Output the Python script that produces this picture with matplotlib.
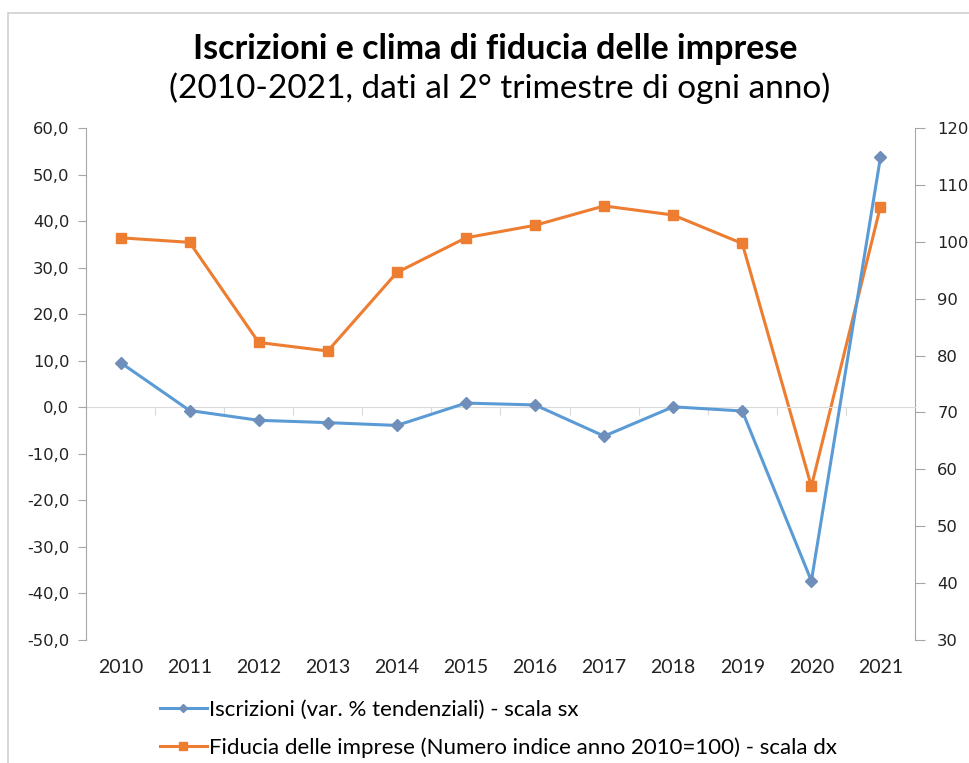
import numpy as np
import matplotlib.pyplot as plt
from matplotlib.patches import Rectangle

anni = ['2010', '2011', '2012', '2013', '2014', '2015',
        '2016', '2017', '2018', '2019', '2020', '2021']
iscrizioni = [9.6, -0.7, -2.8, -3.3, -3.9, 0.9, 0.5, -6.2, 0.1, -0.8, -37.3, 53.7]
fiducia = [100.7, 99.9, 82.3, 80.8, 94.6, 100.7, 102.9, 106.3, 104.7, 99.7, 57.0, 106.2]

sx_ticks = np.arange(-50, 61, 10)
dx_ticks = np.arange(30, 121, 10)

blu = '#5B9BD5'
blu_mk = '#6F8FBA'
arancio = '#ED7D31'
grigio = '#A6A6A6'

fig = plt.figure(figsize=(9.7, 7.63), dpi=100)
fig.patches.append(Rectangle((8 / 970, -0.01), 0.995, 1 - 13 / 763 + 0.01,
                             transform=fig.transFigure, fill=False,
                             edgecolor='#D0D0D0', linewidth=1.2))

ax = fig.add_axes([86 / 970, 1 - 640 / 763, (915 - 86) / 970, (640 - 128) / 763])
ax2 = ax.twinx()

x = np.arange(len(anni)) + 0.5
l1, = ax.plot(x, iscrizioni, color=blu, lw=2.2, marker='D', ms=6,
              mfc=blu_mk, mec=blu_mk, zorder=3,
              label='Iscrizioni (var. % tendenziali) - scala sx')
l2, = ax2.plot(x, fiducia, color=arancio, lw=2.2, marker='s', ms=7.5,
               mfc=arancio, mec=arancio,
               label='Fiducia delle imprese (Numero indice anno 2010=100) - scala dx')

ax.set_xlim(0, len(anni))
ax.set_ylim(-50, 60)
ax2.set_ylim(30, 120)
ax.set_zorder(ax2.get_zorder() + 1)
ax.patch.set_visible(False)

ax.set_yticks(sx_ticks)
ax.set_yticklabels([f'{v:.1f}'.replace('.', ',') for v in sx_ticks])
ax2.set_yticks(dx_ticks)
ax2.set_yticklabels([str(v) for v in dx_ticks])

for a in (ax, ax2):
    for s in ('top', 'bottom'):
        a.spines[s].set_visible(False)
ax.spines['right'].set_visible(False)
ax2.spines['left'].set_visible(False)
ax.spines['left'].set_color(grigio)
ax2.spines['right'].set_color(grigio)

ax.tick_params(axis='y', direction='out', length=6, color=grigio, pad=6,
               labelsize=11.8, labelcolor='#222222')
ax2.tick_params(axis='y', direction='out', length=7, color=grigio, pad=9,
                labelsize=11.8, labelcolor='#222222')

ax.set_xticks(x)
ax.set_xticklabels(anni, fontfamily='Lato', fontsize=14)
ax.tick_params(axis='x', length=0, pad=14, labelcolor='#222222')

# asse delle categorie sulla linea dello zero
zero = (0 - ax.get_ylim()[0]) / (ax.get_ylim()[1] - ax.get_ylim()[0])
sec = ax.secondary_xaxis(zero)
sec.set_xticks(np.arange(1, len(anni)))
sec.set_xticklabels([])
sec.spines['bottom'].set_color('#D9D9D9')
sec.tick_params(axis='x', direction='out', length=6, color='#D9D9D9')

fig.text(0.511, 1 - 49 / 763, 'Iscrizioni e clima di fiducia delle imprese',
         ha='center', va='center', fontsize=24.5, fontweight='bold', fontfamily='Lato')
fig.text(0.515, 1 - 88 / 763, '(2010-2021, dati al 2° trimestre di ogni anno)',
         ha='center', va='center', fontsize=24, fontfamily='Lato')

fig.legend(handles=[l1, l2], loc='upper left', bbox_to_anchor=(140 / 970, 1 - 680 / 763),
           frameon=False, prop={'family': 'Lato', 'size': 16}, handlelength=2.1,
           handletextpad=0.1, labelspacing=0.78, markerscale=0.75)

fig.savefig('out.png', dpi=100)
